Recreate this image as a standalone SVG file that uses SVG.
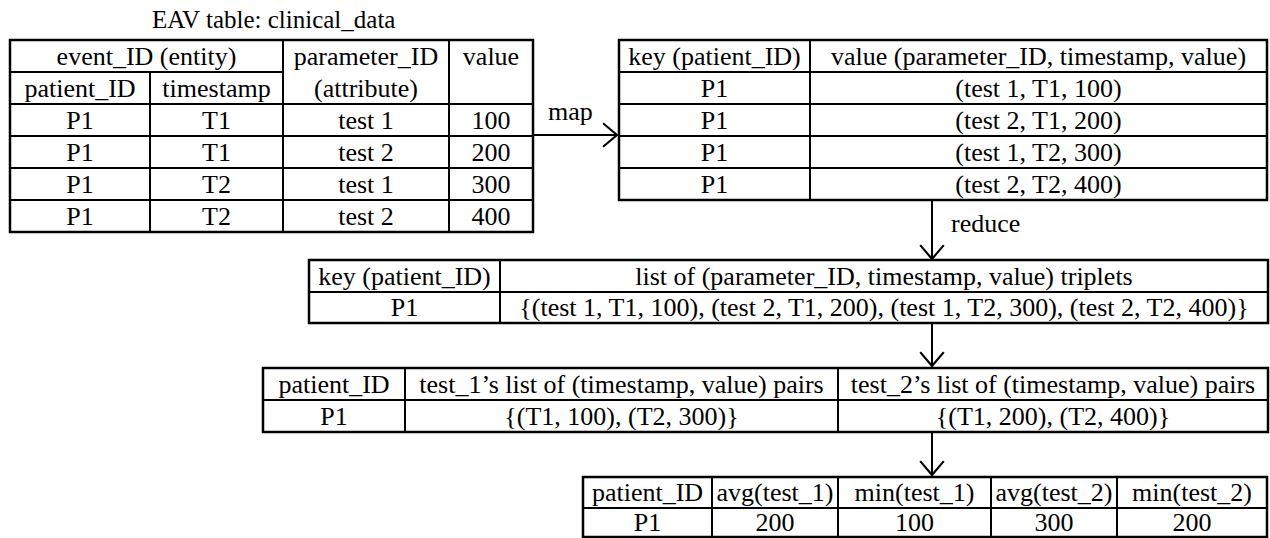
<svg xmlns="http://www.w3.org/2000/svg" width="1270" height="538" viewBox="0 0 1270 538" font-family="'Liberation Serif', 'Times New Roman', Times, serif">
  <style>
    text { font-family: 'Liberation Serif', 'Times New Roman', Times, serif; font-size: 26px; fill: #000; }
    .c { text-anchor: middle; }
    .frame { fill: #fff; stroke: #000; stroke-width: 2.5; }
    .grid { stroke: #000; stroke-width: 2; fill: none; }
    .conn { stroke: #000; stroke-width: 2; fill: none; }
  </style>
  <defs>
    <marker id="chev" markerUnits="userSpaceOnUse" markerWidth="30" markerHeight="30" viewBox="-16 -14 20 28" refX="0" refY="0" orient="auto">
      <path d="M -13 -11 L 0 0 L -13 11" fill="none" stroke="#000" stroke-width="2"/>
    </marker>
  </defs>

  <rect width="1270" height="538" fill="#fff"/>

  <!-- EAV source table -->
  <g id="eav-table">
    <text x="152" y="28" style="font-size:25px">EAV table: clinical_data</text>
    <rect class="frame" x="10" y="40" width="523" height="192"/>
    <path class="grid" d="M10 72H283 M10 104H533 M10 136H533 M10 168H533 M10 200H533 M150 72V232 M283 40V232 M449 40V232"/>
    <text class="c" x="146.5" y="65">event_ID (entity)</text>
    <text class="c" x="80" y="97">patient_ID</text>
    <text class="c" x="216.5" y="97">timestamp</text>
    <text class="c" x="366" y="65">parameter_ID</text>
    <text class="c" x="366" y="97">(attribute)</text>
    <text class="c" x="491" y="65">value</text>
    <text class="c" x="80" y="129">P1</text>
    <text class="c" x="216.5" y="129">T1</text>
    <text class="c" x="366" y="129">test 1</text>
    <text class="c" x="491" y="129">100</text>
    <text class="c" x="80" y="161">P1</text>
    <text class="c" x="216.5" y="161">T1</text>
    <text class="c" x="366" y="161">test 2</text>
    <text class="c" x="491" y="161">200</text>
    <text class="c" x="80" y="193">P1</text>
    <text class="c" x="216.5" y="193">T2</text>
    <text class="c" x="366" y="193">test 1</text>
    <text class="c" x="491" y="193">300</text>
    <text class="c" x="80" y="225">P1</text>
    <text class="c" x="216.5" y="225">T2</text>
    <text class="c" x="366" y="225">test 2</text>
    <text class="c" x="491" y="225">400</text>
  </g>

  <!-- key/value pairs after map -->
  <g id="map-output">
    <rect class="frame" x="619" y="40" width="648" height="160"/>
    <path class="grid" d="M619 72H1267 M619 104H1267 M619 136H1267 M619 168H1267 M810 40V200"/>
    <text class="c" x="714.5" y="65">key (patient_ID)</text>
    <text class="c" x="1038.5" y="65">value (parameter_ID, timestamp, value)</text>
    <text class="c" x="714.5" y="97">P1</text>
    <text class="c" x="1038.5" y="97">(test 1, T1, 100)</text>
    <text class="c" x="714.5" y="129">P1</text>
    <text class="c" x="1038.5" y="129">(test 2, T1, 200)</text>
    <text class="c" x="714.5" y="161">P1</text>
    <text class="c" x="1038.5" y="161">(test 1, T2, 300)</text>
    <text class="c" x="714.5" y="193">P1</text>
    <text class="c" x="1038.5" y="193">(test 2, T2, 400)</text>
  </g>

  <!-- grouped triplets after reduce -->
  <g id="reduce-output">
    <rect class="frame" x="309" y="260" width="959" height="63"/>
    <path class="grid" d="M309 292H1268 M500 260V323"/>
    <text class="c" x="404.5" y="285">key (patient_ID)</text>
    <text class="c" x="884" y="285">list of (parameter_ID, timestamp, value) triplets</text>
    <text class="c" x="404.5" y="316">P1</text>
    <text class="c" x="884" y="316">{(test 1, T1, 100), (test 2, T1, 200), (test 1, T2, 300), (test 2, T2, 400)}</text>
  </g>

  <!-- per-parameter pair lists -->
  <g id="pair-lists">
    <rect class="frame" x="263" y="368" width="1005" height="64"/>
    <path class="grid" d="M263 400H1268 M405 368V432 M838 368V432"/>
    <text class="c" x="334" y="393">patient_ID</text>
    <text class="c" x="621.5" y="393">test_1’s list of (timestamp, value) pairs</text>
    <text class="c" x="1053" y="393">test_2’s list of (timestamp, value) pairs</text>
    <text class="c" x="334" y="425">P1</text>
    <text class="c" x="621.5" y="425">{(T1, 100), (T2, 300)}</text>
    <text class="c" x="1053" y="425">{(T1, 200), (T2, 400)}</text>
  </g>

  <!-- aggregated features -->
  <g id="aggregates">
    <rect class="frame" x="583" y="477" width="684" height="60"/>
    <path class="grid" d="M583 508H1267 M712 477V537 M838 477V537 M991 477V537 M1117 477V537"/>
    <text class="c" x="647.5" y="501">patient_ID</text>
    <text class="c" x="775" y="501">avg(test_1)</text>
    <text class="c" x="914.5" y="501">min(test_1)</text>
    <text class="c" x="1054" y="501">avg(test_2)</text>
    <text class="c" x="1192" y="501">min(test_2)</text>
    <text class="c" x="647.5" y="531">P1</text>
    <text class="c" x="775" y="531">200</text>
    <text class="c" x="914.5" y="531">100</text>
    <text class="c" x="1054" y="531">300</text>
    <text class="c" x="1192" y="531">200</text>
  </g>

  <!-- connectors -->
  <g id="connectors">
    <line class="conn" x1="533" y1="135" x2="617" y2="135" marker-end="url(#chev)"/>
    <text x="548" y="120">map</text>
    <line class="conn" x1="932" y1="200" x2="932" y2="259" marker-end="url(#chev)"/>
    <text x="951" y="232">reduce</text>
    <line class="conn" x1="932" y1="323" x2="932" y2="366" marker-end="url(#chev)"/>
    <line class="conn" x1="932" y1="432" x2="932" y2="475" marker-end="url(#chev)"/>
  </g>
</svg>
